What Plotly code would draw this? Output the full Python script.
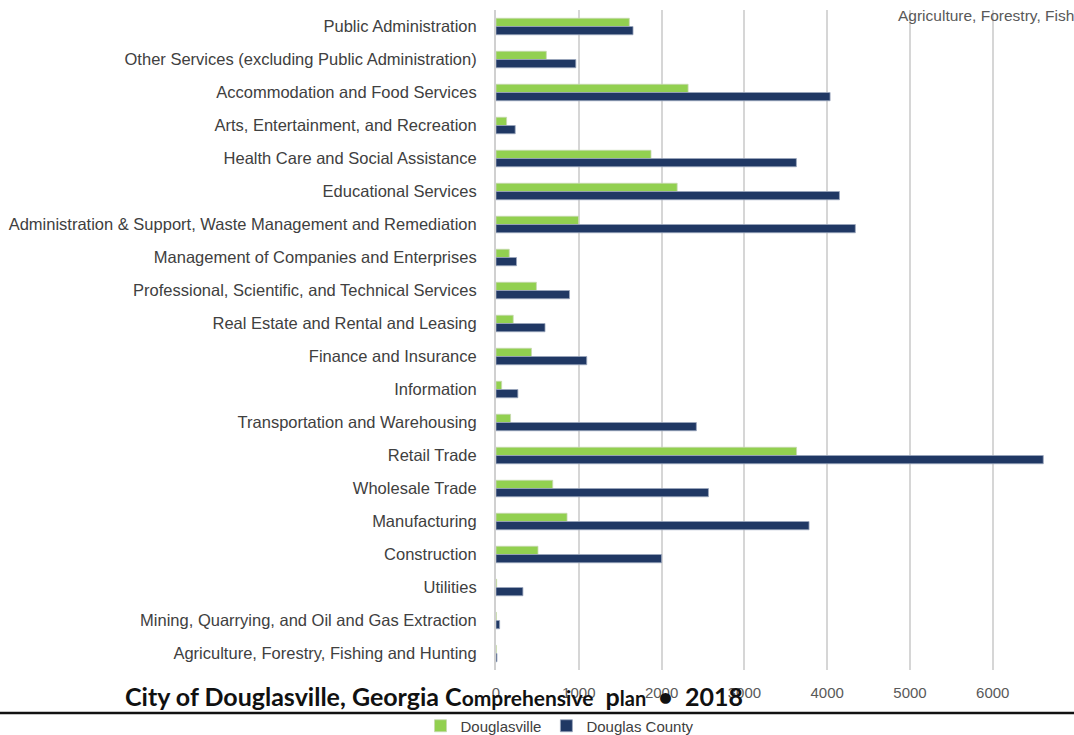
import plotly.graph_objects as go

categories = [
    "Public Administration",
    "Other Services (excluding Public Administration)",
    "Accommodation and Food Services",
    "Arts, Entertainment, and Recreation",
    "Health Care and Social Assistance",
    "Educational Services",
    "Administration & Support, Waste Management and Remediation",
    "Management of Companies and Enterprises",
    "Professional, Scientific, and Technical Services",
    "Real Estate and Rental and Leasing",
    "Finance and Insurance",
    "Information",
    "Transportation and Warehousing",
    "Retail Trade",
    "Wholesale Trade",
    "Manufacturing",
    "Construction",
    "Utilities",
    "Mining, Quarrying, and Oil and Gas Extraction",
    "Agriculture, Forestry, Fishing and Hunting",
]
douglasville = [1610, 608, 2320, 128, 1872, 2188, 996, 160, 488, 208, 428, 68, 176, 3630,
                685, 858, 507, 8, 4, 3]
douglas_county = [1655, 964, 4035, 232, 3628, 4148, 4340, 248, 888, 592, 1096, 264, 2420, 6610,
                  2566, 3781, 2000, 325, 44, 12]
x_ticks = [0, 1000, 2000, 3000, 4000, 5000, 6000]

GREEN = "#92D050"
NAVY = "#203864"
W, H = 1074, 735
L, R, T, B = 496, 0, 10, 65

fig = go.Figure()
fig.add_trace(go.Bar(
    y=categories, x=douglasville, orientation="h", name="Douglasville",
    marker=dict(color=GREEN, line=dict(color="#c8d8b0", width=0.8)),
))
fig.add_trace(go.Bar(
    y=categories, x=douglas_county, orientation="h", name="Douglas County",
    marker=dict(color=NAVY, line=dict(color="#9aa6bd", width=0.8)),
))

pw = W - L - R
ph = H - T - B

def px_x(p):
    return (p - L) / pw

def px_y(p):
    return (H - B - p) / ph

fig.update_layout(
    width=W, height=H,
    margin=dict(l=L, r=R, t=T, b=B, pad=0, autoexpand=False),
    paper_bgcolor="white", plot_bgcolor="white",
    barmode="group", bargap=0.5, bargroupgap=0.0,
    font=dict(family="Liberation Sans, Arial, sans-serif", size=16, color="#404040"),
    showlegend=True,
    legend=dict(orientation="h", x=(560 - L) / pw, xanchor="center", xref="paper",
                y=px_y(726), yanchor="middle", yref="paper",
                font=dict(size=15, color="#404040"),
                itemwidth=30, traceorder="normal", itemclick=False,
                bgcolor="rgba(0,0,0,0)"),
    xaxis=dict(range=[0, 6981], tickvals=x_ticks, showgrid=True, gridcolor="#d6d6d6",
               gridwidth=2, zeroline=False, showline=False, automargin=False,
               tickfont=dict(size=15, color="#595959"), ticks="", ticklabelstandoff=12),
    yaxis=dict(autorange="reversed", categoryorder="array", categoryarray=categories,
               showline=True, linecolor="#d0d0d0", linewidth=2, ticks="", automargin=False,
               tickfont=dict(size=16.5, color="#404040"), ticklabelstandoff=14,
               showgrid=False),
)

NB = "\u00a0"
title_text = ("<b>City of Douglasville, Georgia C<span style='font-size:21px'>omprehensive</span>"
              + NB * 2 + "p<span style='font-size:20px'>lan</span>" + NB * 2 + "•" + NB * 2
              + "2018</b>")

annotations = [
    dict(text="Agriculture, Forestry, Fishing and Hunting", xref="paper", yref="paper",
         x=px_x(896), y=px_y(16), xanchor="left", yanchor="middle", showarrow=False,
         font=dict(size=15.5, color="#595959")),
    dict(text=title_text,
         xref="paper", yref="paper", x=px_x(123), y=px_y(696), xanchor="left", yanchor="middle",
         showarrow=False, font=dict(family="Lato, sans-serif", size=25, color="#111111")),
]
fig.update_layout(annotations=annotations)
fig.add_shape(type="line", xref="paper", yref="paper", x0=px_x(0), x1=px_x(W),
              y0=px_y(713), y1=px_y(713), line=dict(color="#111111", width=2.5))

fig.write_html("out.html")
